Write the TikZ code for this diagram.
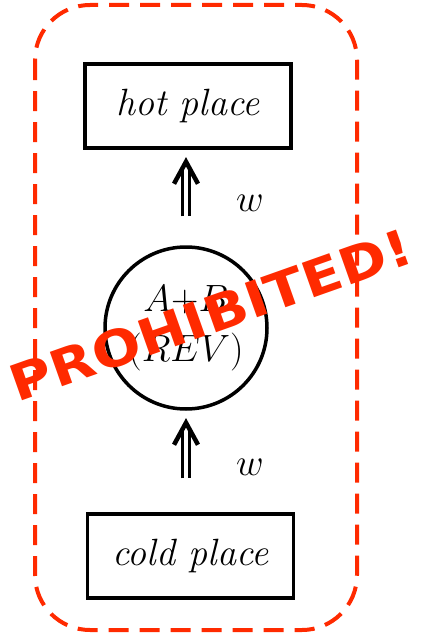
\RequirePackage{fix-cm}
\documentclass[tikz,border=0pt]{standalone}
\usepackage{fontspec}
\newfontfamily\stampfont{DejaVu Sans}
\definecolor{stampred}{RGB}{255,42,0}
\tikzset{
  placebox/.style={draw, line width=3.5pt, minimum width=206pt, minimum height=84pt, inner sep=0pt, font=\fontsize{38}{45}\selectfont\itshape},
  engine/.style={draw, circle, line width=3.5pt, minimum size=162pt, inner sep=0pt, align=center, font=\fontsize{38}{50}\selectfont},
  workshaft/.style={line width=3.5pt, double distance=3.5pt},
  workhead/.style={line width=4.5pt, line join=miter},
  worklabel/.style={font=\fontsize{38}{45}\selectfont},
  stamptext/.style={text=stampred, font=\fontsize{50}{50}\selectfont\stampfont\bfseries, inner sep=0pt},
  border/.style={draw=stampred, line width=4pt, dash pattern=on 20pt off 11pt, rounded corners=55pt}
}
\begin{document}
\begin{tikzpicture}[x=1pt,y=-1pt]
\useasboundingbox (0,0) rectangle (423,634);
\draw[border] (35,5) rectangle (357,630);
\node[placebox] (hot) at (188,106) {hot place};
\node[placebox] (cold) at (190.5,556) {cold place};
\node[engine] (rev) at (186,328) {$A{+}B$\\$(REV)$};
% lower arrow: cold place -> engine
\coordinate (tipA) at ([yshift=-12pt]rev.south);
\draw[workshaft] ([yshift=34pt]cold.north -| rev.south) -- ([yshift=-5pt]tipA);
\draw[workhead] ([xshift=-12pt,yshift=-22pt]tipA) -- (tipA) -- ([xshift=12pt,yshift=-22pt]tipA);
% upper arrow: engine -> hot place
\coordinate (tipB) at ([yshift=-12pt]rev.north |- hot.south);
\draw[workshaft] ([yshift=29pt]rev.north) -- ([yshift=-5pt]tipB);
\draw[workhead] ([xshift=-12pt,yshift=-22pt]tipB) -- (tipB) -- ([xshift=12pt,yshift=-22pt]tipB);
\node[worklabel] (w1) at (250,203) {$w$};
\node[worklabel] (w2) at (250,467) {$w$};
\node[stamptext, rotate=19.5, xscale=1.15] (stamp) at (211,315) {PROHIBITED!};
\end{tikzpicture}
\end{document}
